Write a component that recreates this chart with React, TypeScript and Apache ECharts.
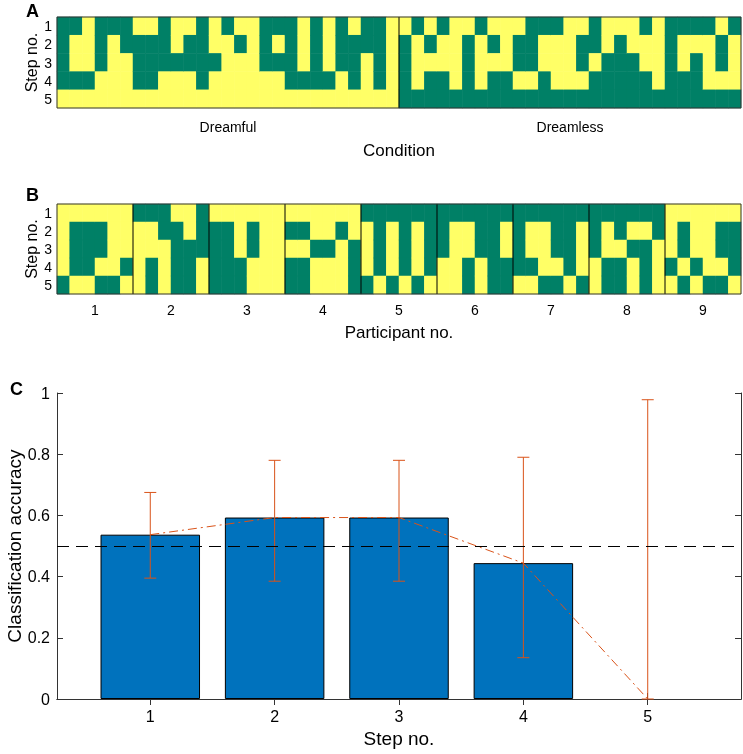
import React, { useEffect, useRef } from 'react';
import * as echarts from 'echarts';

const GREEN = '#008066';
const YELLOW = '#FFFF66';
const AXIS = '#333333';
const ORANGE = '#D95319';
const BLUE = '#0072BD';
const FONT = '"Liberation Sans", Arial, Helvetica, sans-serif';

// Panel A / B: each string is one trial (column); characters are steps 1..5 (Y = yellow, G = green)
const stepLabels = ['1', '2', '3', '4', '5'];
const conditionLabels = ['Dreamful', 'Dreamless'];
const dreamfulTrials = [
  'GGGGY', 'GYYGY', 'YYYGY', 'GGGYY', 'GYYYY', 'GGYYY', 'YGGGY', 'YGGGY', 'GGGYY',
  'YYGYY', 'YGGYY', 'GGGGY', 'YYGYY', 'GYYYY', 'YGYYY', 'YYYYY', 'GGGYY', 'GYGYY',
  'GGGGY', 'YYYGY', 'GGGGY', 'YYYGY', 'GGGYY', 'YGGGY', 'GGYYY', 'GGGGY', 'YYYYY',
];
const dreamlessTrials = [
  'YGGGG', 'GYYYG', 'YGYGG', 'GYYGG', 'YYYYG', 'YGGGG', 'GYYYG', 'YGYGG', 'YYYGG',
  'YGGYG', 'GGGYG', 'GYYGG', 'GYYYG', 'YYYYG', 'YGGYG', 'GGYGG', 'YYGGG', 'YGGGG',
  'YYGGG', 'GYYGG', 'YYYYG', 'GGGGG', 'GYYGG', 'GYGGG', 'GYYYG', 'YGGYG', 'GYYYG',
];

const participantLabels = ['1', '2', '3', '4', '5', '6', '7', '8', '9'];
const participant1 = ['YYYYG', 'YGGGY', 'YGGGY', 'YGGYG', 'YYYYG', 'YYYGY'];
const participant2 = ['GYYYY', 'GYYGG', 'GGYYY', 'YGGGG', 'YYGGG', 'GGGYY'];
const participant3 = ['YGGGG', 'YGGGG', 'YYYGG', 'YGGYY', 'YYYYY', 'YYYYY'];
const participant4 = ['YGYGG', 'YGYGG', 'YYGYY', 'YYGYY', 'YGYYY', 'YYGGG'];
const participant5 = ['GYYYG', 'GGGGY', 'GYYYG', 'GGGGY', 'GYYYG', 'GGGGY'];
const participant6 = ['GGGYY', 'GYYYY', 'GYYGG', 'GGGYY', 'GGGGG', 'GYYGG'];
const participant7 = ['GGGGY', 'GYYGY', 'GYYYG', 'GGGYG', 'GGGGY', 'GYYYG'];
const participant8 = ['GGGYY', 'GYYGG', 'GGYGG', 'GYGYY', 'GYGGG', 'GGYYY'];
const participant9 = ['YYYGY', 'YGGYG', 'YYYGY', 'YYYYG', 'YGGYG', 'YGGGY'];
const participantTrials = [
  participant1, participant2, participant3, participant4, participant5,
  participant6, participant7, participant8, participant9,
];

// Panel C
const stepValues = [1, 2, 3, 4, 5];
const accuracy = [0.537, 0.593, 0.593, 0.444, 0];
const ciLower = [0.395, 0.385, 0.385, 0.135, 0];
const ciUpper = [0.675, 0.78, 0.78, 0.79, 0.978];
const chanceLevel = 0.5;

function toCells(columns: string[]) {
  const cells: number[][] = [];
  columns.forEach((col, x) => {
    for (let r = 0; r < col.length; r++) cells.push([x, r, col[r] === 'Y' ? 1 : 0]);
  });
  return cells;
}

const renderCell = (_params: any, api: any) => {
  const c = api.coord([api.value(0), api.value(1)]);
  const s = api.size([1, 1]);
  return {
    type: 'rect',
    shape: { x: c[0] - s[0] / 2 - 0.25, y: c[1] - s[1] / 2 - 0.25, width: s[0] + 0.5, height: s[1] + 0.5 },
    style: { fill: api.value(2) ? YELLOW : GREEN },
  };
};

const renderDivider = (params: any, api: any) => {
  const c = api.coord([api.value(0), 0]);
  const s = api.size([1, 1]);
  const x = c[0] - s[0] / 2;
  const cs = params.coordSys;
  return {
    type: 'line',
    shape: { x1: x, y1: cs.y, x2: x, y2: cs.y + cs.height },
    style: { stroke: '#000', lineWidth: 1 },
  };
};

const renderFrame = (params: any) => {
  const cs = params.coordSys;
  return {
    type: 'rect',
    shape: { x: cs.x, y: cs.y, width: cs.width, height: cs.height },
    style: { fill: 'none', stroke: AXIS, lineWidth: 1 },
  };
};

const renderErr = (_params: any, api: any) => {
  const x = api.value(0);
  const lo = api.coord([x, api.value(1)]);
  const hi = api.coord([x, api.value(2)]);
  const cap = 6;
  const style = { stroke: ORANGE, lineWidth: 1 };
  return {
    type: 'group',
    children: [
      { type: 'line', shape: { x1: lo[0], y1: lo[1], x2: hi[0], y2: hi[1] }, style },
      { type: 'line', shape: { x1: lo[0] - cap, y1: lo[1], x2: lo[0] + cap, y2: lo[1] }, style },
      { type: 'line', shape: { x1: hi[0] - cap, y1: hi[1], x2: hi[0] + cap, y2: hi[1] }, style },
    ],
  };
};

export default function App() {
  const ref = useRef<HTMLDivElement>(null);

  useEffect(() => {
    document.body.style.margin = '0';
    const chart = echarts.init(ref.current as HTMLDivElement, undefined, { renderer: 'svg' });

    const colsA = dreamfulTrials.concat(dreamlessTrials);
    const colsB = participantTrials.flat();
    const catsA = colsA.map((_, i) => String(i));
    const catsB = colsB.map((_, i) => String(i));
    const dividersA = [[dreamfulTrials.length]];
    const dividersB: number[][] = [];
    let acc = 0;
    participantTrials.slice(0, -1).forEach((p) => {
      acc += p.length;
      dividersB.push([acc]);
    });

    const txt = { fontFamily: FONT, color: '#000' };
    const gridBase = { outerBoundsMode: 'none', containLabel: false };

    const stepAxis = (gridIndex: number) => ({
      gridIndex, type: 'category', data: stepLabels, inverse: true,
      axisLine: { show: false }, axisTick: { show: false },
      axisLabel: { ...txt, fontSize: 14, margin: 5, interval: 0 },
      name: 'Step no.', nameLocation: 'middle', nameGap: 18, nameMoveOverlap: false,
      nameTextStyle: { ...txt, fontSize: 16 },
    });

    const option: any = {
      animation: false,
      textStyle: { fontFamily: FONT },
      grid: [
        { ...gridBase, left: 57, top: 17, width: 684, height: 91 },
        { ...gridBase, left: 57, top: 204, width: 684, height: 90 },
        { ...gridBase, left: 57, top: 393, width: 684, height: 306 },
      ],
      graphic: [
        { type: 'text', left: 26, top: 2, style: { text: 'A', font: `bold 18px ${FONT}`, fill: '#000' } },
        { type: 'text', left: 26, top: 186, style: { text: 'B', font: `bold 18px ${FONT}`, fill: '#000' } },
        { type: 'text', left: 10, top: 380, style: { text: 'C', font: `bold 18px ${FONT}`, fill: '#000' } },
      ],
      xAxis: [
        { gridIndex: 0, type: 'category', data: catsA, show: false, position: 'top' },
        {
          gridIndex: 0, type: 'category', data: conditionLabels, position: 'bottom',
          axisLine: { show: false }, axisTick: { show: false },
          axisLabel: { ...txt, fontSize: 14, margin: 12, interval: 0 },
          name: 'Condition', nameLocation: 'middle', nameGap: 34, nameMoveOverlap: false,
          nameTextStyle: { ...txt, fontSize: 17 },
        },
        { gridIndex: 1, type: 'category', data: catsB, show: false, position: 'top' },
        {
          gridIndex: 1, type: 'category', data: participantLabels, position: 'bottom',
          axisLine: { show: false }, axisTick: { show: false },
          axisLabel: { ...txt, fontSize: 14, margin: 9, interval: 0 },
          name: 'Participant no.', nameLocation: 'middle', nameGap: 30, nameMoveOverlap: false,
          nameTextStyle: { ...txt, fontSize: 17 },
        },
        {
          gridIndex: 2, type: 'value', min: 0.25, max: 5.75, position: 'bottom',
          axisLine: { show: true, lineStyle: { color: AXIS, width: 1 } },
          axisTick: { show: true, inside: true, length: 6, customValues: stepValues, lineStyle: { color: AXIS } },
          axisLabel: { ...txt, fontSize: 16, margin: 9, customValues: stepValues },
          splitLine: { show: false },
          name: 'Step no.', nameLocation: 'middle', nameGap: 30, nameMoveOverlap: false,
          nameTextStyle: { ...txt, fontSize: 19 },
        },
        {
          gridIndex: 2, type: 'value', min: 0.25, max: 5.75, position: 'top',
          axisLine: { show: true, lineStyle: { color: AXIS, width: 1 } },
          axisTick: { show: true, inside: true, length: 6, customValues: stepValues, lineStyle: { color: AXIS } },
          axisLabel: { show: false },
          splitLine: { show: false },
        },
      ],
      yAxis: [
        stepAxis(0),
        stepAxis(1),
        {
          gridIndex: 2, type: 'value', min: 0, max: 1, interval: 0.2, position: 'left',
          axisLine: { show: true, lineStyle: { color: AXIS, width: 1 } },
          axisTick: { show: true, inside: true, length: 6, lineStyle: { color: AXIS } },
          axisLabel: { ...txt, fontSize: 16, margin: 7 },
          splitLine: { show: false },
          name: 'Classification accuracy', nameLocation: 'middle', nameGap: 33, nameMoveOverlap: false,
          nameTextStyle: { ...txt, fontSize: 19 },
        },
        {
          gridIndex: 2, type: 'value', min: 0, max: 1, interval: 0.2, position: 'right',
          axisLine: { show: true, lineStyle: { color: AXIS, width: 1 } },
          axisTick: { show: true, inside: true, length: 6, lineStyle: { color: AXIS } },
          axisLabel: { show: false },
          splitLine: { show: false },
        },
      ],
      series: [
        {
          type: 'custom', xAxisIndex: 0, yAxisIndex: 0, renderItem: renderCell,
          data: toCells(colsA), encode: { x: 0, y: 1 }, silent: true,
        },
        {
          type: 'custom', xAxisIndex: 0, yAxisIndex: 0, renderItem: renderDivider,
          data: dividersA, encode: { x: 0 }, silent: true, z: 5,
        },
        {
          type: 'custom', xAxisIndex: 0, yAxisIndex: 0, renderItem: renderFrame,
          data: [[0, 0]], encode: { x: 0, y: 1 }, silent: true, z: 6,
        },
        {
          type: 'custom', xAxisIndex: 2, yAxisIndex: 1, renderItem: renderCell,
          data: toCells(colsB), encode: { x: 0, y: 1 }, silent: true,
        },
        {
          type: 'custom', xAxisIndex: 2, yAxisIndex: 1, renderItem: renderDivider,
          data: dividersB, encode: { x: 0 }, silent: true, z: 5,
        },
        {
          type: 'custom', xAxisIndex: 2, yAxisIndex: 1, renderItem: renderFrame,
          data: [[0, 0]], encode: { x: 0, y: 1 }, silent: true, z: 6,
        },
        {
          type: 'bar', xAxisIndex: 4, yAxisIndex: 2,
          data: stepValues.map((s, i) => ({
            value: [s, accuracy[i]],
            itemStyle: accuracy[i] === 0 ? { borderWidth: 0 } : undefined,
          })),
          barWidth: 99.5,
          itemStyle: { color: BLUE, borderColor: '#000', borderWidth: 1 },
          markLine: {
            silent: true, symbol: 'none', label: { show: false },
            lineStyle: { color: '#000', width: 1, type: [12, 7] },
            data: [{ yAxis: chanceLevel }],
          },
        },
        {
          type: 'custom', xAxisIndex: 4, yAxisIndex: 2, renderItem: renderErr,
          data: stepValues.map((s, i) => [s, ciLower[i], ciUpper[i]]),
          encode: { x: 0, y: [1, 2] }, z: 4,
        },
        {
          type: 'line', xAxisIndex: 4, yAxisIndex: 2,
          data: stepValues.map((s, i) => [s, accuracy[i]]),
          showSymbol: false, symbol: 'none', z: 4,
          lineStyle: { color: ORANGE, width: 1, type: [9, 4, 2, 4] },
        },
      ],
    };

    chart.setOption(option);
    return () => chart.dispose();
  }, []);

  return <div ref={ref} style={{ position: 'fixed', left: 0, top: 0, width: 743, height: 754 }} />;
}
